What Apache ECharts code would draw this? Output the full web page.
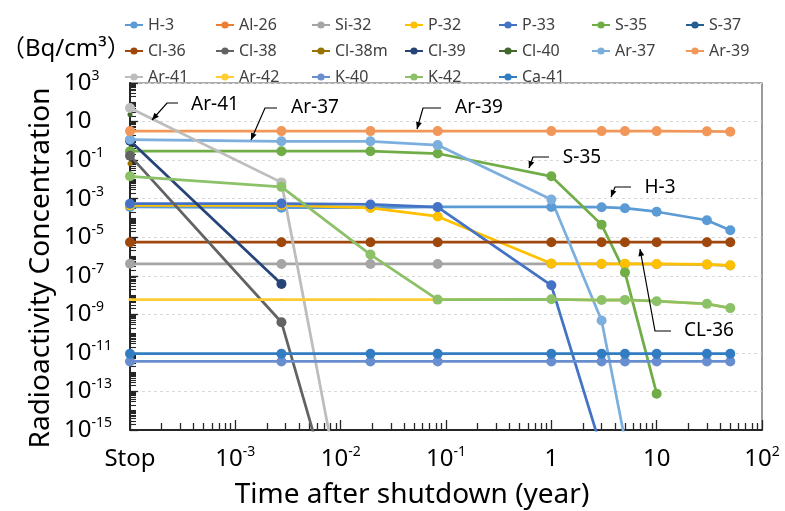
<!DOCTYPE html>
<html><head><meta charset="utf-8">
<script src="https://cdn.jsdelivr.net/npm/echarts@6/dist/echarts.min.js"></script>
<style>html,body{margin:0;padding:0;background:#fff}#c{width:785px;height:511px}</style>
</head><body><div id="c"></div>
<script>
// ---- data ----
const times = [1e-4, 1/365, 7/365, 1/12, 1, 3, 5, 10, 30, 50]; // "Stop" plotted at 1e-4
const nuclides = ['H-3','Al-26','Si-32','P-32','P-33','S-35','S-37','Cl-36','Cl-38','Cl-38m','Cl-39','Cl-40','Ar-37','Ar-39','Ar-41','Ar-42','K-40','K-42','Ca-41'];
const H3   = [3.7e-4, 3.4e-4, 3.4e-4, 3.7e-4, 3.7e-4, 3.6e-4, 3.2e-4, 2.1e-4, 7.6e-5, 2.3e-5];
const Al26 = [3.2];
const Si32 = [4.2e-7, 4.1e-7, 4.1e-7, 4.1e-7, 4.2e-7, 4.1e-7, 4.1e-7, 4.0e-7, 3.8e-7, 3.4e-7];
const P32  = [4.5e-4, 4.6e-4, 3.3e-4, 1.2e-4, 4.3e-7, 4.2e-7, 4.2e-7, 4.1e-7, 3.9e-7, 3.5e-7];
const P33  = [5.5e-4, 5.6e-4, 5.0e-4, 3.6e-4, 3.2e-8, 1e-16];
const S35  = [0.29, 0.29, 0.29, 0.22, 0.0145, 4.5e-5, 1.5e-7, 7.7e-14];
const S37  = [5.5e-4];
const Cl36 = [5.5e-6, 5.5e-6, 5.5e-6, 5.5e-6, 5.5e-6, 5.5e-6, 5.5e-6, 5.5e-6, 5.5e-6, 5.5e-6];
const Cl38 = [0.17, 3.9e-10, 4e-26];
const Cl38m= [0.066];
const Cl39 = [1.0, 3.8e-8];
const Cl40 = [23];
const Ar37 = [1.17, 0.95, 0.95, 0.6, 9e-4, 4.8e-10, 3e-16];
const Ar39 = [3.2, 3.2, 3.2, 3.2, 3.2, 3.2, 3.2, 3.2, 3.1, 3.0];
const Ar41 = [51, 7e-3, 4e-27];
const Ar42 = [5.8e-9, 5.8e-9, 5.8e-9, 5.8e-9, 6.0e-9, 5.5e-9, 5.6e-9, 4.8e-9, 3.5e-9, 2.1e-9];
const K40  = [3.6e-12, 3.6e-12, 3.6e-12, 3.6e-12, 3.6e-12, 3.6e-12, 3.6e-12, 3.6e-12, 3.6e-12, 3.6e-12];
const K42  = [0.0145, 4.1e-3, 1.26e-6, 5.8e-9, 6.0e-9, 5.5e-9, 5.6e-9, 4.8e-9, 3.5e-9, 2.1e-9];
const Ca41 = [9.1e-12, 9.1e-12, 9.1e-12, 9.1e-12, 9.1e-12, 9.1e-12, 9.1e-12, 9.1e-12, 9.1e-12, 9.1e-12];
const yLabelExps = [-15, -13, -11, -9, -7, -5, -3, -1, 1, 3];
const xTickLabels = ['Stop', '10^-3', '10^-2', '10^-1', '1', '10', '10^2'];
const xTickExps = [-4, -3, -2, -1, 0, 1, 2];
const annotations = ['Ar-41', 'Ar-37', 'Ar-39', 'S-35', 'H-3', 'CL-36'];

// ---- styling ----
const valueArrays = [H3, Al26, Si32, P32, P33, S35, S37, Cl36, Cl38, Cl38m, Cl39, Cl40, Ar37, Ar39, Ar41, Ar42, K40, K42, Ca41];
const colors = ['#5B9BD5','#ED7D31','#A5A5A5','#FFC000','#4472C4','#70AD47','#255E91','#9E480E','#636363','#997300','#264478','#43682B','#7CAFDD','#F1975A','#BDBDBD','#FFCD33','#698ED0','#8CC168','#327DC2'];
const markerSizes = [10, 0, 10, 10, 10, 10, 0, 10, 10, 5, 10, 5, 10, 10, 10, 3, 10, 10, 10];
const FONT = "'Noto Sans', 'Noto Sans CJK JP', sans-serif";

const pow10 = e => Math.pow(10, e);
const yMajor = yLabelExps.map(pow10);
const yMinor = [];
for (let n = -15; n < 3; n++) { for (let k = 1; k <= 9; k++) { if (k === 1 && (n % 2 !== 0)) continue; yMinor.push(k * Math.pow(10, n)); } }
const xMajor = xTickExps.map(pow10);
const xMinor = [];
for (let n = -4; n < 2; n++) { for (let k = 2; k <= 9; k++) xMinor.push(k * Math.pow(10, n)); }

function supText(s) {
  const i = s.indexOf('^');
  if (i < 0) return '{b|' + s + '}';
  return '{b|' + s.slice(0, i) + '}{s|' + s.slice(i + 1) + '}';
}
const rich = {
  b: { fontSize: 24, fontFamily: FONT, color: '#000', lineHeight: 28 },
  s: { fontSize: 14, fontFamily: FONT, color: '#000', lineHeight: 16, verticalAlign: 'top' }
};
function yFmt(v) {
  const e = Math.round(Math.log10(v));
  return supText(e === 1 ? '10' : '10^' + e);
}
function xFmt(v) {
  const e = Math.round(Math.log10(v));
  const i = xTickExps.indexOf(e);
  return i >= 0 ? supText(xTickLabels[i]) : '';
}

const series = nuclides.map((name, i) => ({
  name, type: 'line',
  data: valueArrays[i].map((v, j) => [times[j], v]),
  symbol: markerSizes[i] ? 'circle' : 'none',
  symbolSize: markerSizes[i],
  showSymbol: !!markerSizes[i],
  lineStyle: { width: 2.75, color: colors[i] },
  itemStyle: { color: colors[i] },
  emphasis: { disabled: true },
  clip: true
}));

// legend: 7 columns, items flow row by row
const legendCols = 7;
const legendColX = [124, 215, 311, 404, 498, 591, 685];
const legends = legendColX.map((x, c) => ({
  data: nuclides.filter((n, i) => i % legendCols === c),
  orient: 'vertical', left: x, top: 12, padding: 0,
  itemWidth: 18, itemHeight: 9, itemGap: 0,
  textStyle: { fontSize: 16, color: '#404040', lineHeight: 26, fontFamily: FONT }
}));

// annotation callouts (text + elbow arrow)
const calloutGeom = [
  { t: [215, 105], p: [[178, 103], [167, 103], [152, 120]] },
  { t: [315, 108], p: [[277, 108], [265, 108], [251, 140]] },
  { t: [479, 108], p: [[441, 108], [423, 108], [417, 129]] },
  { t: [582, 158], p: [[549, 157], [533, 157], [529, 168]] },
  { t: [660, 188], p: [[631, 187], [615, 187], [611, 197]] },
  { t: [709, 331], p: [[671, 331], [655, 331], [640, 249]] }
];
const graphics = [];
calloutGeom.forEach((g, i) => {
  graphics.push({ type: 'text', x: g.t[0], y: g.t[1], z: 10,
    style: { text: annotations[i], font: '19px ' + FONT, fill: '#000', align: 'center', verticalAlign: 'middle' } });
  graphics.push({ type: 'polyline', z: 10, shape: { points: g.p }, style: { stroke: '#000', lineWidth: 1.2, fill: null } });
  const a = g.p[g.p.length - 2], b = g.p[g.p.length - 1];
  const dx = b[0] - a[0], dy = b[1] - a[1], L = Math.hypot(dx, dy), ux = dx / L, uy = dy / L;
  const bx = b[0] - ux * 7, by = b[1] - uy * 7;
  graphics.push({ type: 'polygon', z: 10, shape: { points: [b, [bx - uy * 3, by + ux * 3], [bx + uy * 3, by - ux * 3]] }, style: { fill: '#000' } });
});
graphics.push({ type: 'text', x: 1, y: 49, style: { text: '（Bq/cm³）', font: '24px ' + FONT, fill: '#000', align: 'left', verticalAlign: 'middle' } });
graphics.push({ type: 'text', x: 41, y: 268, rotation: Math.PI / 2, style: { text: 'Radioactivity Concentration', font: '28px ' + FONT, fill: '#000', align: 'center', verticalAlign: 'middle' } });
graphics.push({ type: 'text', x: 412, y: 495, style: { text: 'Time after shutdown (year)', font: '28px ' + FONT, fill: '#000', align: 'center', verticalAlign: 'middle' } });

const axisCol = '#262626';
const option = {
  animation: false,
  backgroundColor: '#fff',
  textStyle: { fontFamily: FONT },
  grid: { left: 130, top: 83, width: 632, height: 347, show: true, borderColor: '#595959', borderWidth: 1.2, backgroundColor: 'transparent' },
  legend: legends,
  xAxis: [
    { type: 'log', logBase: 10, min: 1e-4, max: 100, position: 'bottom',
      axisLine: { show: true, onZero: false, lineStyle: { color: axisCol, width: 2 } },
      axisTick: { show: true, inside: true, length: 10, customValues: xMajor, lineStyle: { color: axisCol, width: 1.3 } },
      axisLabel: { customValues: xMajor, formatter: xFmt, margin: 15, rich: rich },
      splitLine: { show: false } },
    { type: 'log', logBase: 10, min: 1e-4, max: 100, position: 'bottom',
      axisLine: { show: false }, axisLabel: { show: false }, splitLine: { show: false },
      axisTick: { show: true, inside: true, length: 7, customValues: xMinor, lineStyle: { color: axisCol, width: 1.3 } } }
  ],
  yAxis: [
    { type: 'log', logBase: 10, min: 1e-15, max: 1e3, position: 'left',
      axisLine: { show: true, onZero: false, lineStyle: { color: axisCol, width: 2 } },
      axisTick: { show: true, inside: true, length: 8, customValues: yMajor, lineStyle: { color: axisCol, width: 1.3 } },
      axisLabel: { customValues: yMajor, formatter: yFmt, align: 'left', margin: 66, rich: rich },
      splitLine: { show: true, lineStyle: { type: [3, 3], color: '#d9d9d9', width: 1 } } },
    { type: 'log', logBase: 10, min: 1e-15, max: 1e3, position: 'left', offset: 0,
      axisLine: { show: false }, axisLabel: { show: false }, splitLine: { show: false },
      axisTick: { show: true, inside: true, length: 6, customValues: yMinor, lineStyle: { color: axisCol, width: 1.1 } } }
  ],
  graphic: graphics,
  series: series
};
const chart = echarts.init(document.getElementById('c'));
chart.setOption(option);
</script>
</body></html>
